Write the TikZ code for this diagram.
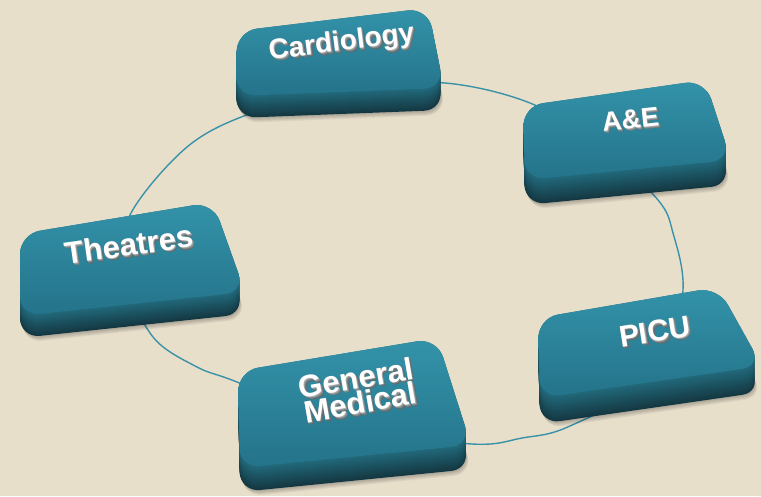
\documentclass[tikz,border=0pt]{standalone}
\usepackage{fontspec}
\setmainfont{Liberation Sans}
\definecolor{bg}{HTML}{E8DFCB}
\definecolor{ringc}{HTML}{3A92A8}
\definecolor{faceTop}{HTML}{3393A9}
\definecolor{faceMid}{HTML}{2E899F}
\definecolor{faceBot}{HTML}{24738A}
\definecolor{bandLight}{HTML}{226A7C}
\definecolor{bandDark}{HTML}{143842}
\definecolor{shA}{HTML}{5F6A6D}
\definecolor{shB}{HTML}{7E8486}
\definecolor{shC}{HTML}{A4A8A9}
\tikzset{
  lbl/.style={inner sep=0pt, align=center},
  oneline/.style={text height=0.72em, text depth=0pt},
  ringline/.style={draw=ringc, line width=1.4pt},
  boxround/.style={rounded corners=20pt},
}
% #1..#4: corners of the top face (TL, TR, BR, BL), #5: depth of the side band
\newcommand\tealbox[5]{%
  \foreach \j in {5,...,1}
    \fill[black, opacity=0.05, boxround, shift={(\j*0.5,#5+\j)}]
      (#1) -- (#2) -- (#3) -- (#4) -- cycle;
  \foreach \i in {#5,...,0}{%
    \pgfmathtruncatemacro\p{100*\i/#5}
    \fill[bandDark!\p!bandLight, boxround, shift={(0,\i)}]
      (#1) -- (#2) -- (#3) -- (#4) -- cycle;
  }
  \shade[boxround, top color=faceTop, middle color=faceMid, bottom color=faceBot]
    (#1) -- (#2) -- (#3) -- (#4) -- cycle;
}
% #1 name, #2 x, #3 y, #4 angle, #5 font size, #6 extra style, #7 text
\newcommand\boxlabel[7]{%
  \foreach \k/\c/\n in {2.4/shA/a,1.6/shB/b,0.8/shC/c}
    \node[lbl, #6, font=\bfseries\fontsize{#5}{25}\selectfont, text=\c, rotate=#4]
      (#1\n) at (#2+\k,#3+\k) {#7};
  \node[lbl, #6, font=\bfseries\fontsize{#5}{25}\selectfont, text=white, rotate=#4]
    (#1) at (#2,#3) {#7};
}
\begin{document}
\begin{tikzpicture}[x=1pt, y=-1pt]
  \fill[bg] (0,0) rectangle (761,496);
  \useasboundingbox (0,0) rectangle (761,496);
  % ring behind the boxes
  \draw[ringline] plot[smooth cycle, tension=0.55] coordinates {
    (130,215) (187,147) (252,113) (350,88) (445,83) (530,103) (600,145)
    (658,200) (673,233) (683,290) (665,372) (570,426) (522,438) (472,444)
    (350,428) (237,382) (197,367) (153,337) (124,275)};
  % boxes
  \tealbox{237,31}{428,8}{444,88}{236,96}{22}
  \tealbox{523,106}{705,80}{731,160}{525,180}{25}
  \tealbox{20,234}{213,202}{245,292}{20,316}{22}
  \tealbox{538,318}{718,287}{762,366}{540,398}{26}
  \tealbox{238,371}{437,338}{471,445}{240,468}{24}
  % labels
  \boxlabel{card}{342}{47}{7}{28}{oneline}{Cardiology}
  \boxlabel{ae}{631}{125}{6}{27}{oneline}{A\&E}
  \boxlabel{thea}{130}{252}{8}{31}{oneline}{Theatres}
  \boxlabel{picu}{656}{338}{9}{30}{oneline}{PICU}
  \boxlabel{gen}{358}{390}{10}{31}{}{General\\Medical}
\end{tikzpicture}
\end{document}
